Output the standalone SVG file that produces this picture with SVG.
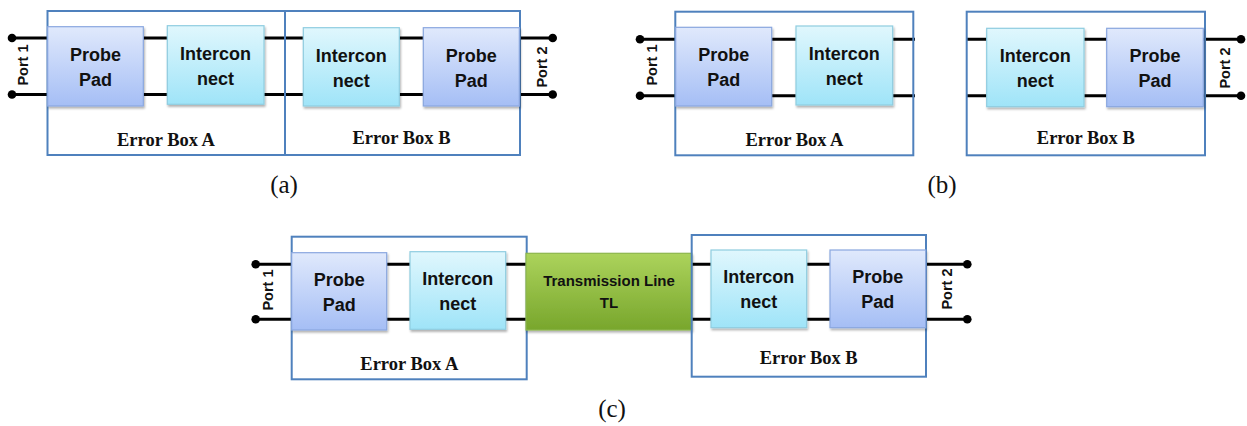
<svg xmlns="http://www.w3.org/2000/svg" width="1247" height="426" viewBox="0 0 1247 426">
<style>
.eb{fill:none;stroke:#4f81bd;stroke-width:2}
.pp{fill:url(#gPP);stroke:#8aa7df;stroke-width:1.2;filter:url(#sh)}
.ic{fill:url(#gIC);stroke:#8fcde0;stroke-width:1.2;filter:url(#sh)}
.tl{fill:url(#gTL);stroke:#8db64c;stroke-width:1.2;filter:url(#sh)}
.ln{stroke:#000;stroke-width:3;fill:none}
.dot{fill:#000}
.lbl{font-family:"Liberation Sans",Arial,sans-serif;font-weight:bold;font-size:18px;fill:#111;text-anchor:middle}
.tlt{font-family:"Liberation Sans",Arial,sans-serif;font-weight:bold;font-size:15px;fill:#111;text-anchor:middle}
.port{font-family:"Liberation Sans",Arial,sans-serif;font-weight:bold;font-size:14.5px;fill:#111;text-anchor:middle}
.ebt{font-family:"Liberation Serif","Times New Roman",serif;font-weight:bold;font-size:18.5px;fill:#111;text-anchor:middle}
.cap{font-family:"Liberation Serif","Times New Roman",serif;font-size:25px;fill:#111;text-anchor:middle}
</style>
<defs>
<linearGradient id="gPP" x1="0" y1="0" x2="0" y2="1"><stop offset="0" stop-color="#e0e9fc"/><stop offset="1" stop-color="#a5bef5"/></linearGradient>
<linearGradient id="gIC" x1="0" y1="0" x2="0" y2="1"><stop offset="0" stop-color="#e0f7fd"/><stop offset="1" stop-color="#9fe4f8"/></linearGradient>
<linearGradient id="gTL" x1="0" y1="0" x2="0" y2="1"><stop offset="0" stop-color="#acd35c"/><stop offset="1" stop-color="#78a62c"/></linearGradient>
<filter id="sh" x="-10%" y="-10%" width="125%" height="130%"><feDropShadow dx="1" dy="2" stdDeviation="1.2" flood-color="#000" flood-opacity="0.3"/></filter>
</defs>

<g id="connectors">
<line class="ln" x1="12" y1="38" x2="552.7" y2="38"/>
<line class="ln" x1="12" y1="94.5" x2="552.7" y2="94.5"/>
<circle class="dot" cx="12" cy="38" r="4.3"/><circle class="dot" cx="12" cy="94.5" r="4.3"/>
<circle class="dot" cx="552.7" cy="38" r="4.3"/><circle class="dot" cx="552.7" cy="94.5" r="4.3"/>
<line class="ln" x1="640" y1="39.3" x2="915" y2="39.3"/>
<line class="ln" x1="640" y1="95.7" x2="915" y2="95.7"/>
<line class="ln" x1="966.7" y1="39.3" x2="1241" y2="39.3"/>
<line class="ln" x1="966.7" y1="95.7" x2="1241" y2="95.7"/>
<circle class="dot" cx="640" cy="39.3" r="4.3"/><circle class="dot" cx="640" cy="95.7" r="4.3"/>
<circle class="dot" cx="1241" cy="39.3" r="4.3"/><circle class="dot" cx="1241" cy="95.7" r="4.3"/>
<line class="ln" x1="255.7" y1="264.3" x2="967.3" y2="264.3"/>
<line class="ln" x1="255.7" y1="319.3" x2="967.3" y2="319.3"/>
<circle class="dot" cx="255.7" cy="264.3" r="4.3"/><circle class="dot" cx="255.7" cy="319.3" r="4.3"/>
<circle class="dot" cx="967.3" cy="264.3" r="4.3"/><circle class="dot" cx="967.3" cy="319.3" r="4.3"/>
</g>

<g id="a-errorA"><rect class="eb" x="47.5" y="11" width="237.5" height="144"/><text class="ebt" x="166" y="145.5">Error Box A</text></g>
<g id="a-errorB"><rect class="eb" x="285" y="11" width="235" height="144"/><text class="ebt" x="401.5" y="143.5">Error Box B</text></g>
<g id="a-probeA"><rect class="pp" x="47.7" y="26.7" width="95.6" height="79.3"/><text class="lbl" x="95.5" y="61">Probe</text><text class="lbl" x="95.5" y="86">Pad</text></g>
<g id="a-interA"><rect class="ic" x="167.3" y="25.7" width="96.7" height="78.6"/><text class="lbl" x="215.6" y="59.8">Intercon</text><text class="lbl" x="215.6" y="84.8">nect</text></g>
<g id="a-interB"><rect class="ic" x="303.3" y="27.7" width="96" height="78.3"/><text class="lbl" x="351.3" y="61.5">Intercon</text><text class="lbl" x="351.3" y="86.5">nect</text></g>
<g id="a-probeB"><rect class="pp" x="423.3" y="27.7" width="96" height="78.3"/><text class="lbl" x="471.3" y="61.5">Probe</text><text class="lbl" x="471.3" y="86.5">Pad</text></g>
<g id="a-port1"><text class="port" transform="translate(28.3,65) rotate(-90)">Port 1</text></g>
<g id="a-port2"><text class="port" transform="translate(546.8,67) rotate(-90)">Port 2</text></g>
<text class="cap" x="284" y="192.5">(a)</text>

<g id="b-errorA"><rect class="eb" x="675.3" y="11.7" width="238" height="143.6"/><text class="ebt" x="794.5" y="145.5">Error Box A</text></g>
<g id="b-probeA"><rect class="pp" x="675.7" y="27.3" width="96" height="78.7"/><text class="lbl" x="723.7" y="61.2">Probe</text><text class="lbl" x="723.7" y="86.2">Pad</text></g>
<g id="b-interA"><rect class="ic" x="796" y="26" width="96.7" height="79"/><text class="lbl" x="844.3" y="60">Intercon</text><text class="lbl" x="844.3" y="85">nect</text></g>
<g id="b-errorB"><rect class="eb" x="966.7" y="11.7" width="238.3" height="143.6"/><text class="ebt" x="1085.8" y="143.5">Error Box B</text></g>
<g id="b-interB"><rect class="ic" x="986.7" y="28.3" width="97.3" height="78.4"/><text class="lbl" x="1035.3" y="62">Intercon</text><text class="lbl" x="1035.3" y="87">nect</text></g>
<g id="b-probeB"><rect class="pp" x="1106.7" y="28.3" width="96.6" height="78.4"/><text class="lbl" x="1155" y="62">Probe</text><text class="lbl" x="1155" y="87">Pad</text></g>
<g id="b-port1"><text class="port" transform="translate(656.8,65) rotate(-90)">Port 1</text></g>
<g id="b-port2"><text class="port" transform="translate(1230.3,68) rotate(-90)">Port 2</text></g>
<text class="cap" x="942" y="192.5">(b)</text>

<g id="c-errorA"><rect class="eb" x="291.7" y="236.7" width="235" height="142.6"/><text class="ebt" x="409.3" y="370">Error Box A</text></g>
<g id="c-probeA"><rect class="pp" x="291.7" y="252.7" width="95" height="77.3"/><text class="lbl" x="339.2" y="285.8">Probe</text><text class="lbl" x="339.2" y="310.8">Pad</text></g>
<g id="c-interA"><rect class="ic" x="410" y="251.7" width="95.7" height="77.6"/><text class="lbl" x="457.8" y="285">Intercon</text><text class="lbl" x="457.8" y="310">nect</text></g>
<g id="c-tl"><rect class="tl" x="526" y="253.3" width="165.7" height="76.7"/><text class="tlt" x="609" y="285.7">Transmission Line</text><text class="tlt" x="609" y="308">TL</text></g>
<g id="c-errorB"><rect class="eb" x="691.7" y="235" width="234.3" height="141.7"/><text class="ebt" x="808.7" y="364">Error Box B</text></g>
<g id="c-interB"><rect class="ic" x="711" y="250" width="95.7" height="77.7"/><text class="lbl" x="758.8" y="283.3">Intercon</text><text class="lbl" x="758.8" y="308.3">nect</text></g>
<g id="c-probeB"><rect class="pp" x="830" y="250" width="95.7" height="77.7"/><text class="lbl" x="877.8" y="283.3">Probe</text><text class="lbl" x="877.8" y="308.3">Pad</text></g>
<g id="c-port1"><text class="port" transform="translate(273.3,290) rotate(-90)">Port 1</text></g>
<g id="c-port2"><text class="port" transform="translate(951.8,289) rotate(-90)">Port 2</text></g>
<text class="cap" x="612" y="417">(c)</text>
</svg>
